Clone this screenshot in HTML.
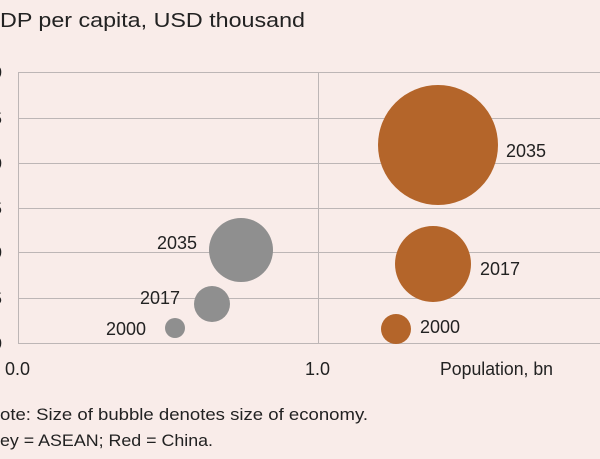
<!DOCTYPE html>
<html><head><meta charset="utf-8"><style>
html,body{margin:0;padding:0;background:#f9ece9;}
svg{display:block;}
text{font-family:"Liberation Sans",sans-serif;fill:#222;}
</style></head><body>
<svg width="600" height="459" viewBox="0 0 600 459">
<rect width="600" height="459" fill="#f9ece9"/>
<text x="0" y="27" font-size="20" textLength="305" lengthAdjust="spacingAndGlyphs">DP per capita, USD thousand</text>
<g stroke="#bdb6b6" stroke-width="1">
<line x1="18" y1="72.5" x2="600" y2="72.5"/>
<line x1="18" y1="118.5" x2="600" y2="118.5"/>
<line x1="18" y1="163.5" x2="600" y2="163.5"/>
<line x1="18" y1="208.5" x2="600" y2="208.5"/>
<line x1="18" y1="252.5" x2="600" y2="252.5"/>
<line x1="18" y1="298.5" x2="600" y2="298.5"/>
<line x1="18" y1="343.5" x2="600" y2="343.5"/>
<line x1="18.5" y1="72" x2="18.5" y2="343"/>
<line x1="318.5" y1="72" x2="318.5" y2="343"/>
</g>
<g font-size="17" text-anchor="end">
<text x="2" y="78">0</text><text x="2" y="124">5</text><text x="2" y="169">0</text>
<text x="2" y="214">5</text><text x="2" y="258">0</text><text x="2" y="304">5</text><text x="2" y="349">0</text>
</g>
<g fill="#8f8f8f">
<circle cx="241" cy="250" r="32"/>
<circle cx="212" cy="304" r="18"/>
<circle cx="175" cy="328" r="10"/>
</g>
<g fill="#b4652a">
<circle cx="438" cy="145" r="60"/>
<circle cx="433" cy="264" r="38"/>
<circle cx="396" cy="329" r="15"/>
</g>
<g font-size="18">
<text x="157" y="249">2035</text>
<text x="140" y="304">2017</text>
<text x="106" y="335">2000</text>
<text x="506" y="157">2035</text>
<text x="480" y="275">2017</text>
<text x="420" y="333">2000</text>
</g>
<g font-size="18">
<text x="5" y="375">0.0</text>
<text x="305" y="375">1.0</text>
<text x="440" y="375" textLength="113" lengthAdjust="spacingAndGlyphs">Population, bn</text>
</g>
<text x="0" y="420" font-size="17" textLength="368" lengthAdjust="spacingAndGlyphs">ote: Size of bubble denotes size of economy.</text>
<text x="0" y="446" font-size="17" textLength="213" lengthAdjust="spacingAndGlyphs">ey = ASEAN; Red = China.</text>
</svg>
</body></html>
